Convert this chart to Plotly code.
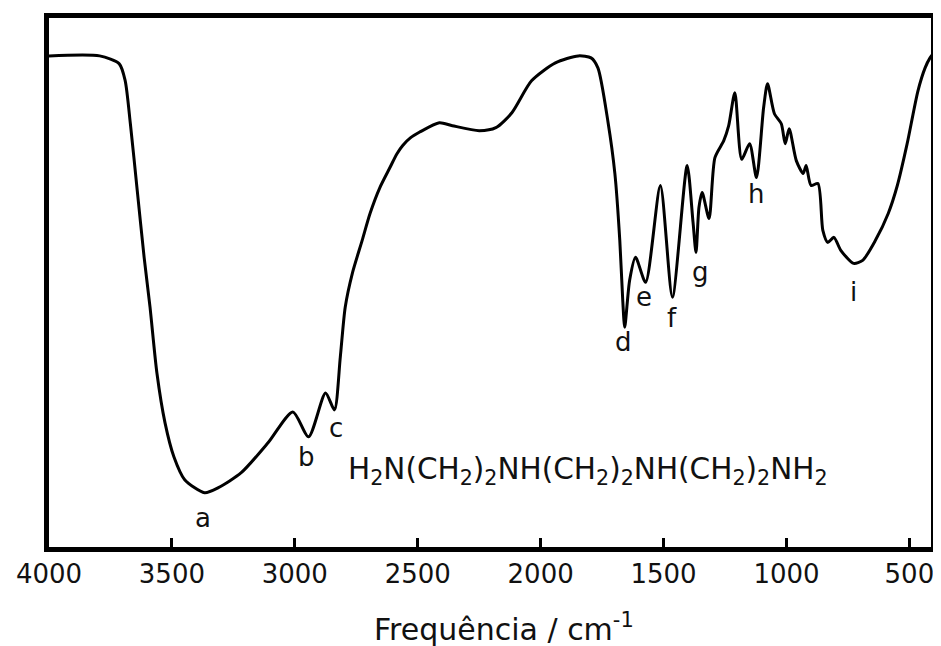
import plotly.graph_objects as go

# IR spectrum of diethylenetriamine
wavenumber = [4000, 3794, 3714, 3690, 3669, 3641, 3613, 3589, 3561, 3528, 3492, 3448,
              3367, 3311, 3218, 3109, 3008, 2944, 2875, 2839, 2815, 2795, 2766, 2726,
              2694, 2654, 2613, 2585, 2561, 2530, 2492, 2412, 2359, 2250, 2182, 2117, 2037, 1940,
              1847, 1795, 1767, 1726, 1698, 1678, 1666, 1658, 1638, 1614, 1573, 1513,
              1464, 1404, 1380, 1368, 1356, 1343, 1315, 1291, 1255, 1235, 1210, 1182,
              1150, 1122, 1093, 1077, 1049, 1021, 1005, 989, 960, 932, 920, 900,
              872, 852, 832, 807, 779, 727, 690, 638, 586, 549, 509, 465, 436, 416, 400]
transmittance = [92.35, 92.35, 90.86, 87.69, 79.66, 67.16, 54.66, 45.34, 33.02, 23.69, 17.35, 13.06,
                 10.63, 11.57, 14.37, 19.96, 25.75, 21.08, 29.29, 26.12, 36.01, 45.34, 51.68, 57.84,
                 62.87, 67.72, 71.46, 74.0, 75.6, 77.0, 78.1, 79.85, 79.29, 78.36, 78.92, 81.72, 87.69, 91.04,
                 92.35, 91.98, 90.11, 80.0, 70.34, 57.84, 46.64, 41.60, 50.37, 54.66, 50.00, 68.10,
                 47.20, 71.83, 61.19, 55.60, 63.99, 66.79, 61.94, 73.32, 76.49, 79.29, 85.45, 73.0,
                 75.93, 69.59, 82.65, 87.13, 81.53, 79.66, 75.93, 78.73, 72.76, 70.34, 71.83, 68.10,
                 68.47, 59.70, 57.46, 58.40, 55.97, 53.54, 54.10, 57.84, 62.87, 68.10, 75.93, 85.82,
                 90.11, 91.98, 92.9]

tick_values = [4000, 3500, 3000, 2500, 2000, 1500, 1000, 500]
tick_labels = ["4000", "3500", "3000", "2500", "2000", "1500", "1000", "500"]

peak_labels = ["a", "b", "c", "d", "e", "f", "g", "h", "i"]
formula = ("H<sub>2</sub>N(CH<sub>2</sub>)<sub>2</sub>NH(CH<sub>2</sub>)<sub>2</sub>"
           "NH(CH<sub>2</sub>)<sub>2</sub>NH<sub>2</sub>")
x_title = "Frequência / cm<sup>-1</sup>"

# the page body adds an 8px margin; layout is given in window pixels and shifted
OFF = 8
W, H = 941 - OFF, 646 - OFF
PL, PR, PT, PB = 48.5, 936.5, 17.0, 547.5   # plot area in window pixels

label_px = [(204, 518), (308, 457), (337, 428), (627, 342), (648, 297),
            (676, 318), (704, 272), (760, 194), (858, 292)]


def paper(px, py):
    return (px - PL) / (PR - PL), (PB - py) / (PB - PT)


FONT = "DejaVu Sans, Liberation Sans, sans-serif"
INK = "#111111"

fig = go.Figure()
fig.add_trace(go.Scatter(x=wavenumber, y=transmittance, mode="lines",
                         line=dict(color="black", width=3, shape="spline", smoothing=0.7),
                         hoverinfo="skip", showlegend=False))

annotations = []
for txt, (px, py) in zip(peak_labels, label_px):
    xp, yp = paper(px, py)
    annotations.append(dict(x=xp, y=yp, xref="paper", yref="paper", text=txt,
                            showarrow=False, xanchor="center", yanchor="middle",
                            font=dict(family=FONT, size=26, color=INK)))
xp, yp = paper(591, 471)
annotations.append(dict(x=xp, y=yp, xref="paper", yref="paper", text=formula,
                        showarrow=False, xanchor="center", yanchor="middle",
                        font=dict(family=FONT, size=29.5, color=INK)))
xp, yp = paper(507, 628)
annotations.append(dict(x=xp, y=yp, xref="paper", yref="paper", text=x_title,
                        showarrow=False, xanchor="center", yanchor="middle",
                        font=dict(family=FONT, size=30, color=INK)))

fig.update_layout(
    width=W, height=H,
    margin=dict(l=PL - OFF, r=W - (PR - OFF), t=PT - OFF, b=H - (PB - OFF), pad=0),
    paper_bgcolor="white", plot_bgcolor="white",
    annotations=annotations,
    xaxis=dict(range=[4000, 412], tickvals=tick_values, ticktext=tick_labels,
               ticks="inside", ticklen=9, tickwidth=3, tickcolor="black",
               showline=True, linewidth=5, linecolor="black", mirror=True,
               showgrid=False, zeroline=False,
               tickfont=dict(family=FONT, size=26, color=INK)),
    yaxis=dict(range=[0.47, 99.44], showticklabels=False, ticks="",
               showline=True, linewidth=5, linecolor="black", mirror=True,
               showgrid=False, zeroline=False),
)

fig.write_html("out.html")
